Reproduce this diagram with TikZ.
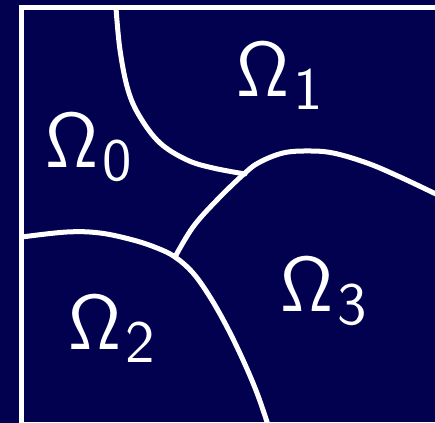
\RequirePackage{fix-cm}
\documentclass[tikz,border=0pt]{standalone}
\definecolor{navy}{RGB}{1,1,80}
\newcommand{\omlab}[1]{{\fontsize{19.5}{22}\selectfont$\mathsf{\Omega}$}\hspace{0.9pt}\raisebox{-3.2pt}{\fontsize{15}{17}\selectfont$\mathsf{#1}$}}
\begin{document}
\begin{tikzpicture}[x=0.25pt,y=-0.25pt,
  border/.style={white,line width=1.25pt},
  cut/.style={white,line width=1.25pt,line cap=round,line join=round},
  lab/.style={white,anchor=base west,inner sep=0pt}]
\useasboundingbox (0,0) rectangle (435,423);
\clip (0,0) rectangle (435,423);
\fill[navy] (0,0) rectangle (435,423);
\draw[border] (21.5,7.5) rectangle (445,425);
\draw[cut] plot[smooth,tension=0.6] coordinates {(116,8) (120,50) (128,90) (140,117) (160,143) (187,160) (213,168) (245,174)};
\draw[cut] plot[smooth,tension=0.6] coordinates {(440,196) (400,177) (367,163) (333,153) (307,151) (283,153) (260,162) (245,173) (217,200) (193,227) (175,257)};
\draw[cut] plot[smooth,tension=0.6] coordinates {(22,237) (67,232) (100,233) (133,240) (157,248) (175,257) (193,273) (210,297) (227,327) (243,360) (257,393) (268,425)};
\node[lab] (o0) at (45,168) {\omlab{0}};
\node[lab] (o1) at (236,97) {\omlab{1}};
\node[lab] (o2) at (68,350) {\omlab{2}};
\node[lab] (o3) at (280,312) {\omlab{3}};
\end{tikzpicture}
\end{document}
